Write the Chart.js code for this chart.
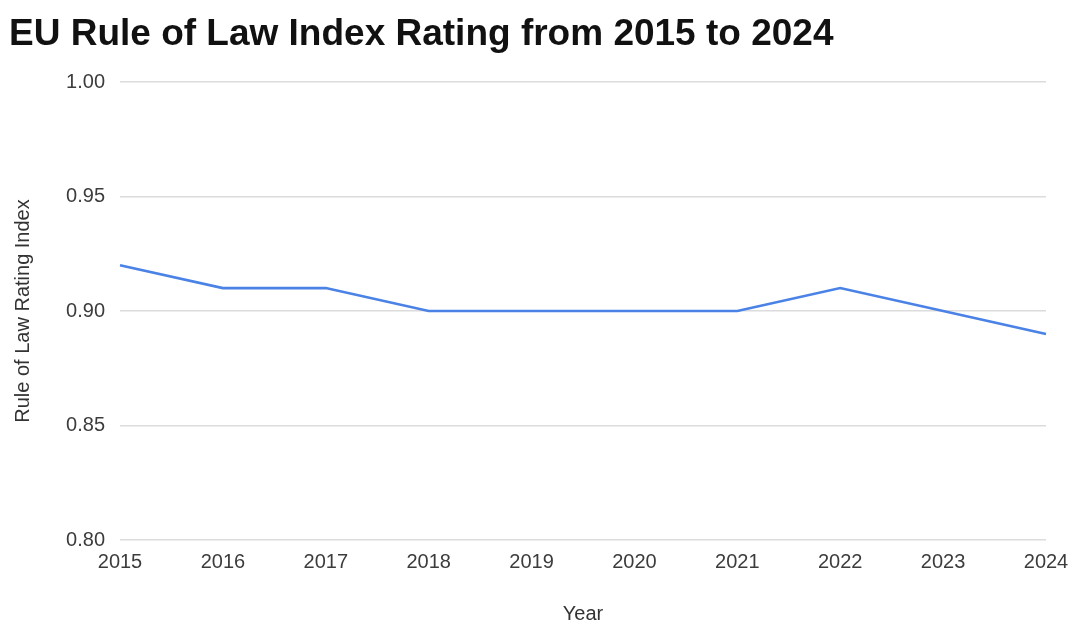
<!DOCTYPE html>
<html>
<head>
<meta charset="utf-8">
<script src="https://cdn.jsdelivr.net/npm/chart.js@4"></script>
<style>
  html, body { margin: 0; padding: 0; background: #ffffff; }
  #wrap { width: 1073px; height: 626px; position: relative; }
</style>
</head>
<body>
<div id="wrap"><canvas id="c" width="1073" height="626"></canvas></div>
<script>
const years = ["2015","2016","2017","2018","2019","2020","2021","2022","2023","2024"];
const ratings = [0.92, 0.91, 0.91, 0.90, 0.90, 0.90, 0.90, 0.91, 0.90, 0.89];
const titleText = "EU Rule of Law Index Rating from 2015 to 2024";
const xTitle = "Year";
const yTitle = "Rule of Law Rating Index";
const yMin = 0.80, yMax = 1.00, yStep = 0.05;

const FONT = "'Liberation Sans', Arial, sans-serif";

new Chart(document.getElementById('c'), {
  type: 'line',
  data: {
    labels: years,
    datasets: [{
      data: ratings,
      borderColor: '#4a82e6',
      borderWidth: 2.6,
      pointRadius: 0,
      pointHoverRadius: 0,
      tension: 0,
      fill: false
    }]
  },
  options: {
    responsive: false,
    animation: false,
    layout: { padding: { left: 9, right: 27, top: 0, bottom: 0 } },
    plugins: {
      legend: { display: false },
      tooltip: { enabled: false },
      title: {
        display: true,
        text: titleText,
        align: 'start',
        color: '#111111',
        font: { family: FONT, size: 37, weight: 'bold' },
        padding: { top: 13, bottom: 24.6 }
      }
    },
    scales: {
      x: {
        type: 'category',
        offset: false,
        grid: { display: false, drawTicks: false },
        border: { display: false },
        ticks: { color: '#3c3c3c', font: { family: FONT, size: 20 }, padding: 10, maxRotation: 0, autoSkip: false },
        title: { display: true, text: xTitle, color: '#333333', font: { family: FONT, size: 20 }, padding: { top: 0, bottom: 0 } },
        afterFit: (s) => { s.height = 86; s.paddingLeft = 0; s.paddingRight = 0; }
      },
      y: {
        min: yMin, max: yMax,
        grid: { color: '#dcdcdc', lineWidth: 1.5, drawTicks: false },
        border: { display: false },
        ticks: {
          stepSize: yStep,
          color: '#3c3c3c',
          font: { family: FONT, size: 20 },
          padding: 15,
          callback: (v) => Number(v).toFixed(2)
        },
        title: { display: true, text: yTitle, color: '#333333', font: { family: FONT, size: 20 }, padding: { top: 2, bottom: 0 } },
        afterFit: (s) => { s.width = 111; }
      }
    }
  }
});
</script>
</body>
</html>
